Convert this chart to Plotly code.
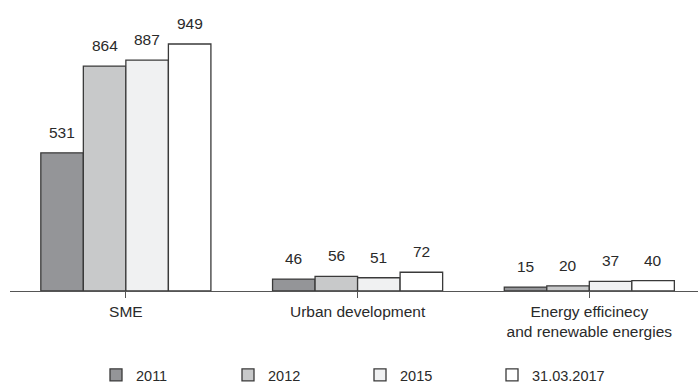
import plotly.graph_objects as go

categories = ["SME", "Urban development", "Energy efficinecy<br>and renewable energies"]
series_names = ["2011", "2012", "2015", "31.03.2017"]
values_2011 = [531, 46, 15]
values_2012 = [864, 56, 20]
values_2015 = [887, 51, 37]
values_2017 = [949, 72, 40]
series_values = [values_2011, values_2012, values_2015, values_2017]
colors = ["#949598", "#c8c9ca", "#f0f1f2", "#ffffff"]

FONT = "Liberation Sans, Arial, sans-serif"
bargap = 0.266

fig = go.Figure()
for name, vals, col in zip(series_names, series_values, colors):
    fig.add_trace(go.Bar(
        x=list(range(len(categories))), y=vals, name=name,
        marker=dict(color=col, line=dict(color="#3a3a3a", width=1.3)),
    ))

n = len(series_names)
bw = (1 - bargap) / n
annotations = []
for j, vals in enumerate(series_values):
    for i, v in enumerate(vals):
        annotations.append(dict(
            x=i + (j - (n - 1) / 2) * bw, y=v, xref="x", yref="y",
            text=str(v), showarrow=False, yanchor="bottom", yshift=10,
            font=dict(family=FONT, size=15.5, color="#2a2a2a"),
        ))

fig.update_layout(
    width=698, height=388,
    margin=dict(l=10, r=0, t=0, b=97),
    paper_bgcolor="white", plot_bgcolor="white",
    barmode="group", bargap=bargap, bargroupgap=0,
    showlegend=True,
    legend=dict(
        orientation="h", xref="container", yref="container",
        x=96 / 698, y=1 - 375 / 388, xanchor="left", yanchor="middle",
        entrywidth=87, entrywidthmode="pixels",
        font=dict(family=FONT, size=14.5, color="#2a2a2a"),
        itemclick=False, traceorder="normal",
    ),
    annotations=annotations,
    font=dict(family=FONT, color="#2a2a2a"),
)
fig.update_xaxes(
    tickmode="array", tickvals=list(range(len(categories))), ticktext=categories,
    range=[-0.5, 2.469], showline=True, linecolor="#555555", linewidth=1,
    ticks="outside", tickson="boundaries", ticklen=6, tickcolor="#555555",
    tickfont=dict(family=FONT, size=15.5, color="#2a2a2a"),
    showgrid=False, zeroline=False,
)
fig.update_yaxes(range=[0, 1118], visible=False, showgrid=False, zeroline=False)

fig.write_html("out.html")
